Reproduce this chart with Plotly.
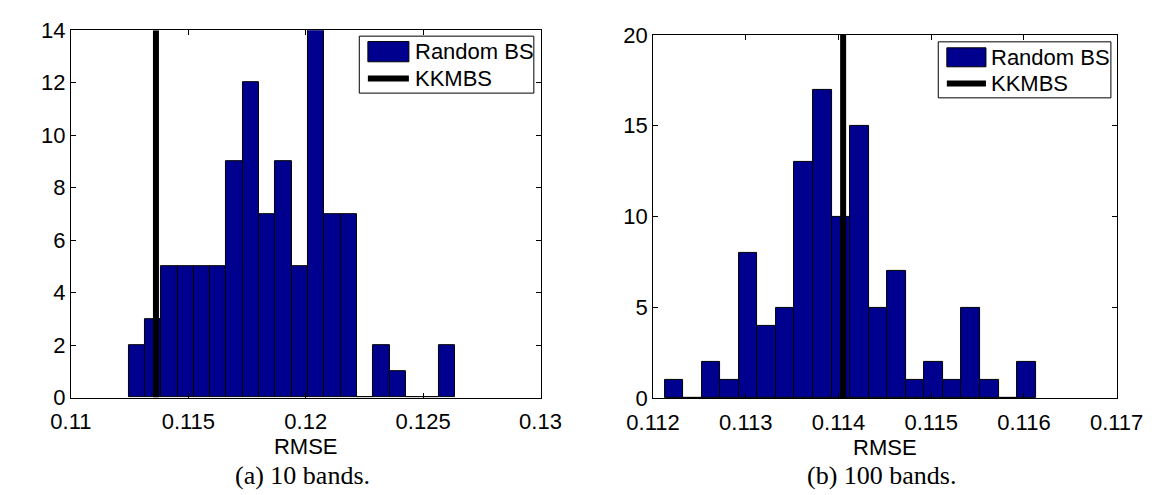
import numpy as np
import plotly.graph_objects as go

# ---- data ----
# (a) 10 bands
counts_a = [2, 3, 5, 5, 5, 5, 9, 12, 7, 9, 5, 14, 7, 7, 0, 2, 1, 0, 0, 2]
range_a = [0.11245, 0.12636]          # min / max of the RMSE samples (hist range)
kkmbs_a = 0.11362
xticks_a = [0.11, 0.115, 0.12, 0.125, 0.13]
xtick_text_a = ["0.11", "0.115", "0.12", "0.125", "0.13"]
yticks_a = [0, 2, 4, 6, 8, 10, 12, 14]

# (b) 100 bands
counts_b = [1, 0, 2, 1, 8, 4, 5, 13, 17, 10, 15, 5, 7, 1, 2, 1, 5, 1, 0, 2]
range_b = [0.112124, 0.116128]
kkmbs_b = 0.11405
xticks_b = [0.112, 0.113, 0.114, 0.115, 0.116, 0.117]
xtick_text_b = ["0.112", "0.113", "0.114", "0.115", "0.116", "0.117"]
yticks_b = [0, 5, 10, 15, 20]

legend_labels = ["Random BS", "KKMBS"]
captions = ["(a) 10 bands.", "(b) 100 bands."]
x_title = "RMSE"

BAR_COLOR = "#00008F"
FONT = "Liberation Sans, Arial, sans-serif"
SERIF = "Liberation Serif, DejaVu Serif, serif"
W, H = 1169, 495


def px(x):
    return x / W


def py(y):
    return 1 - y / H


def centers(rng, n):
    edges = np.linspace(rng[0], rng[1], n + 1)
    return (edges[:-1] + edges[1:]) / 2, edges[1] - edges[0]


fig = go.Figure()

cx_a, w_a = centers(range_a, len(counts_a))
cx_b, w_b = centers(range_b, len(counts_b))

fig.add_trace(go.Bar(x=cx_a, y=counts_a, width=w_a, name=legend_labels[0],
                     marker=dict(color=BAR_COLOR, line=dict(color="black", width=1)),
                     xaxis="x", yaxis="y", showlegend=False))
fig.add_trace(go.Scatter(x=[kkmbs_a, kkmbs_a], y=[0, max(yticks_a)], mode="lines",
                         name=legend_labels[1], line=dict(color="black", width=6),
                         xaxis="x", yaxis="y", showlegend=False))
fig.add_trace(go.Bar(x=cx_b, y=counts_b, width=w_b, name=legend_labels[0],
                     marker=dict(color=BAR_COLOR, line=dict(color="black", width=1)),
                     xaxis="x2", yaxis="y2", showlegend=False))
fig.add_trace(go.Scatter(x=[kkmbs_b, kkmbs_b], y=[0, max(yticks_b)], mode="lines",
                         name=legend_labels[1], line=dict(color="black", width=6),
                         xaxis="x2", yaxis="y2", showlegend=False))

axis_common = dict(showgrid=False, zeroline=False, showline=True, linecolor="black",
                   linewidth=1, mirror="ticks", ticks="inside", ticklen=5,
                   tickcolor="black", tickfont=dict(family=FONT, size=22, color="black"))

fig.update_layout(
    width=W, height=H,
    margin=dict(l=0, r=0, t=0, b=0),
    paper_bgcolor="white", plot_bgcolor="white",
    bargap=0,
    xaxis=dict(domain=[px(37.7), px(530)], range=[xticks_a[0], xticks_a[-1]],
               tickvals=xticks_a, ticktext=xtick_text_a, anchor="y", ticklabelstandoff=4,
               title=dict(text=x_title, font=dict(family=FONT, size=22, color="black"), standoff=0),
               **axis_common),
    yaxis=dict(domain=[py(397.7), py(10.7)], range=[0, max(yticks_a)],
               tickvals=yticks_a, anchor="x", ticklabelstandoff=0, **axis_common),
    xaxis2=dict(domain=[px(648), px(1134)], range=[xticks_b[0], xticks_b[-1]],
                tickvals=xticks_b, ticktext=xtick_text_b, anchor="y2", ticklabelstandoff=4,
                title=dict(text=x_title, font=dict(family=FONT, size=22, color="black"), standoff=0),
                **axis_common),
    yaxis2=dict(domain=[py(398.5), py(15.7)], range=[0, max(yticks_b)],
                tickvals=yticks_b, anchor="x2", ticklabelstandoff=0, **axis_common),
)

# ---- legends (drawn as boxes + real text, matching the MATLAB look) ----
shapes = []
annotations = []
legend_boxes = [
    # box x0, x1, y0, y1, swatch x0, x1, bar y0, y1, line y, text x, text y1, text y2
    (340, 523, 17, 77, 349, 392, 22.7, 44, 61.5, 396, 33.5, 61.5),
    (947, 1128, 23, 82, 956, 997, 29.3, 49.3, 67, 1000, 39.5, 67),
]
for (bx0, bx1, by0, by1, sx0, sx1, ry0, ry1, ly, tx, ty1, ty2) in legend_boxes:
    shapes.append(dict(type="rect", xref="paper", yref="paper",
                       x0=px(bx0), x1=px(bx1), y0=py(by1), y1=py(by0),
                       line=dict(color="black", width=1), fillcolor="white", layer="above"))
    shapes.append(dict(type="rect", xref="paper", yref="paper",
                       x0=px(sx0), x1=px(sx1), y0=py(ry1), y1=py(ry0),
                       line=dict(color="black", width=1), fillcolor=BAR_COLOR, layer="above"))
    shapes.append(dict(type="line", xref="paper", yref="paper",
                       x0=px(sx0), x1=px(sx1), y0=py(ly), y1=py(ly),
                       line=dict(color="black", width=6), layer="above"))
    for label, ty in zip(legend_labels, (ty1, ty2)):
        annotations.append(dict(text=label, x=px(tx), y=py(ty), xref="paper", yref="paper",
                                xanchor="left", yanchor="middle", showarrow=False,
                                font=dict(family=FONT, size=22, color="black")))

for cap, cx in zip(captions, (280, 888)):
    annotations.append(dict(text=cap, x=px(cx), y=py(480), xref="paper", yref="paper",
                            xanchor="center", yanchor="middle", showarrow=False,
                            font=dict(family=SERIF, size=26, color="black")))

fig.update_layout(shapes=shapes, annotations=annotations)

fig.write_html("out.html")
